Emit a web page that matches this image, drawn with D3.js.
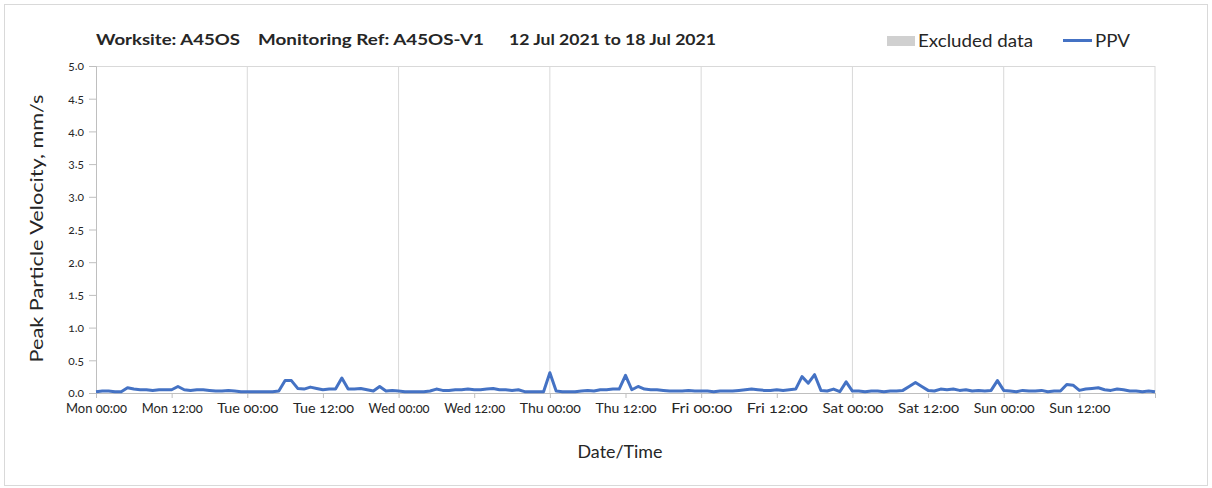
<!DOCTYPE html>
<meta charset="utf-8">
<style>
body { margin: 0; background: #fff; }
text { font-family: 'Lato', 'Open Sans', sans-serif; fill: #262626; }
.tick text { font-variant-numeric: oldstyle-nums; font-feature-settings: "onum"; }
</style>
<body>
<svg width="1212" height="488"></svg>
<script src="https://d3js.org/d3.v7.min.js"></script>
<script>

// hourly PPV readings, Mon 12 Jul 2021 00:00 to Mon 19 Jul 2021 00:00
var startTime = "2021-07-12T00:00:00";
var ppv = [
  0.02, 0.03, 0.03, 0.02, 0.02, 0.08, 0.06, 0.05, 0.05, 0.04, 0.05, 0.05,
  0.05, 0.10, 0.05, 0.04, 0.05, 0.05, 0.04, 0.03, 0.03, 0.04, 0.03, 0.02,
  0.02, 0.02, 0.02, 0.02, 0.02, 0.03, 0.19, 0.19, 0.07, 0.06, 0.09, 0.07,
  0.05, 0.06, 0.06, 0.23, 0.06, 0.06, 0.07, 0.05, 0.03, 0.10, 0.03, 0.04,
  0.03, 0.02, 0.02, 0.02, 0.02, 0.03, 0.06, 0.04, 0.04, 0.05, 0.05, 0.06,
  0.05, 0.05, 0.06, 0.07, 0.05, 0.05, 0.04, 0.05, 0.02, 0.02, 0.02, 0.02,
  0.31, 0.03, 0.02, 0.02, 0.02, 0.03, 0.04, 0.03, 0.05, 0.05, 0.06, 0.06,
  0.27, 0.05, 0.10, 0.06, 0.05, 0.05, 0.04, 0.03, 0.03, 0.03, 0.04, 0.03,
  0.03, 0.03, 0.02, 0.03, 0.03, 0.03, 0.04, 0.05, 0.06, 0.05, 0.04, 0.04,
  0.05, 0.04, 0.05, 0.06, 0.25, 0.15, 0.28, 0.04, 0.03, 0.06, 0.02, 0.17,
  0.03, 0.03, 0.02, 0.03, 0.03, 0.02, 0.03, 0.03, 0.04, 0.10, 0.16, 0.10,
  0.04, 0.03, 0.06, 0.05, 0.06, 0.04, 0.05, 0.03, 0.04, 0.03, 0.04, 0.19,
  0.04, 0.03, 0.02, 0.04, 0.03, 0.03, 0.04, 0.02, 0.03, 0.03, 0.13, 0.12,
  0.04, 0.06, 0.07, 0.08, 0.05, 0.04, 0.06, 0.05, 0.03, 0.03, 0.02, 0.03,
  0.02
];
var yTicks = [0, 0.5, 1, 1.5, 2, 2.5, 3, 3.5, 4, 4.5, 5];
var xTickLabels = ["Mon 00:00", "Mon 12:00", "Tue 00:00", "Tue 12:00", "Wed 00:00", "Wed 12:00",
  "Thu 00:00", "Thu 12:00", "Fri 00:00", "Fri 12:00", "Sat 00:00", "Sat 12:00",
  "Sun 00:00", "Sun 12:00", ""];
var titleParts = ["Worksite: A45OS", "Monitoring Ref: A45OS-V1", "12 Jul 2021 to 18 Jul 2021"];
var legendLabels = ["Excluded data", "PPV"];

var svg = d3.select("svg");
var margin = {left: 96, right: 57, top: 66, bottom: 95};
var width = 1212 - margin.left - margin.right,
    height = 488 - margin.top - margin.bottom;

var t0 = new Date(startTime);
var data = ppv.map(function(v, i) { return {t: d3.timeHour.offset(t0, i), v: v}; });
var tEnd = d3.timeHour.offset(t0, 168);

// outer frame
svg.append("rect")
    .attr("x", 4.5).attr("y", 4.5)
    .attr("width", 1203).attr("height", 481)
    .attr("fill", "none").attr("stroke", "#d9d9d9");

var g = svg.append("g").attr("transform", "translate(" + margin.left + "," + margin.top + ")");

var x = d3.scaleTime().domain([t0, tEnd]).range([0, width]);
var y = d3.scaleLinear().domain([0, 5]).range([height, 0]);

var dayTicks = d3.timeDay.range(d3.timeDay.offset(t0, 1), d3.timeDay.offset(tEnd, 1));
var halfTicks = d3.timeHour.every(12).range(t0, d3.timeHour.offset(tEnd, 1));

// vertical gridlines at midnight
g.selectAll(".grid")
    .data(dayTicks)
  .enter().append("line")
    .attr("x1", function(d) { return x(d); })
    .attr("x2", function(d) { return x(d); })
    .attr("y1", 0).attr("y2", height)
    .attr("stroke", "#d9d9d9");

// top border
g.append("line")
    .attr("x1", 0).attr("x2", width)
    .attr("y1", 0.5).attr("y2", 0.5)
    .attr("stroke", "#d9d9d9");

var xAxis = g.append("g")
    .attr("transform", "translate(0," + height + ")")
    .call(d3.axisBottom(x).tickValues(halfTicks).tickSize(5).tickPadding(6)
      .tickFormat(function(d, i) { return xTickLabels[i]; }));
xAxis.select(".domain").attr("stroke", "#bfbfbf");
xAxis.selectAll(".tick line").attr("stroke", "#bfbfbf");
xAxis.selectAll(".tick text").attr("font-size", 13).attr("fill", "#262626")
    .attr("textLength", 61).attr("lengthAdjust", "spacingAndGlyphs");

var yAxis = g.append("g")
    .call(d3.axisLeft(y).tickValues(yTicks).tickSize(7).tickPadding(5)
      .tickFormat(d3.format(".1f")));
yAxis.select(".domain").attr("stroke", "#bfbfbf");
yAxis.selectAll(".tick line").attr("stroke", "#bfbfbf");
yAxis.selectAll(".tick text").attr("font-size", 12).attr("fill", "#404040");

var line = d3.line()
    .x(function(d) { return x(d.t); })
    .y(function(d) { return y(d.v); });

g.append("path")
    .datum(data)
    .attr("fill", "none")
    .attr("stroke", "#4472c4")
    .attr("stroke-width", 3)
    .attr("stroke-linejoin", "round")
    .attr("d", line);

// axis titles
svg.append("text")
    .attr("x", 620).attr("y", 458)
    .attr("text-anchor", "middle")
    .attr("font-size", 17.5)
    .attr("textLength", 85).attr("lengthAdjust", "spacingAndGlyphs")
    .text("Date/Time");

svg.append("text")
    .attr("transform", "translate(43," + (margin.top + height / 2 - 1) + ") rotate(-90)")
    .attr("text-anchor", "middle")
    .attr("font-size", 17.5)
    .attr("textLength", 268).attr("lengthAdjust", "spacingAndGlyphs")
    .text("Peak Particle Velocity, mm/s");

// title
var titleX = [96, 258, 509], titleW = [144, 226, 207];
svg.selectAll(".title")
    .data(titleParts)
  .enter().append("text")
    .attr("x", function(d, i) { return titleX[i]; })
    .attr("y", 45)
    .attr("font-size", 16)
    .attr("font-weight", "bold")
    .attr("fill", "#000")
    .attr("textLength", function(d, i) { return titleW[i]; })
    .attr("lengthAdjust", "spacingAndGlyphs")
    .text(function(d) { return d; });

// legend
svg.append("rect")
    .attr("x", 887).attr("y", 36)
    .attr("width", 28).attr("height", 10)
    .attr("fill", "#d0d0d0");
svg.append("text")
    .attr("x", 918).attr("y", 47)
    .attr("font-size", 17)
    .attr("textLength", 115).attr("lengthAdjust", "spacingAndGlyphs")
    .text(legendLabels[0]);
svg.append("line")
    .attr("x1", 1063).attr("x2", 1092)
    .attr("y1", 40.5).attr("y2", 40.5)
    .attr("stroke", "#4472c4").attr("stroke-width", 3);
svg.append("text")
    .attr("x", 1095).attr("y", 47)
    .attr("font-size", 17)
    .attr("textLength", 35).attr("lengthAdjust", "spacingAndGlyphs")
    .text(legendLabels[1]);

</script>
